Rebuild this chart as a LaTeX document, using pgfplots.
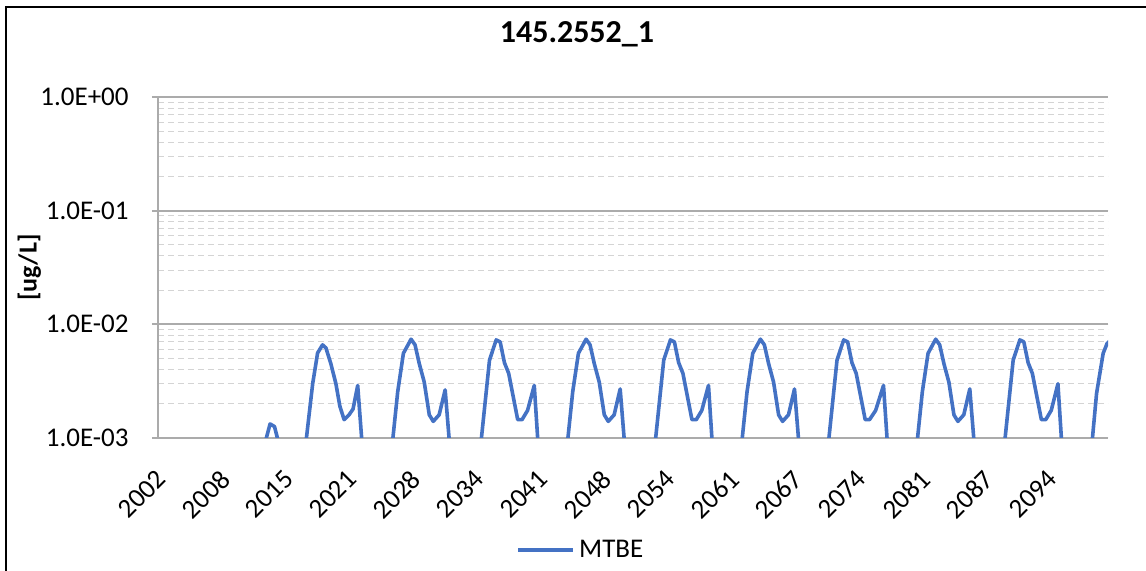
\documentclass[border=0pt]{standalone}
\usepackage{fontspec}
\setmainfont{Carlito}
\usepackage{pgfplots}
\pgfplotsset{compat=1.18}

\definecolor{mtbeblue}{HTML}{4472C4}
\definecolor{majgrid}{HTML}{ABABAB}
\definecolor{mingrid}{HTML}{D4D4D4}

\begin{document}
\begin{tikzpicture}
	% page frame (1 px = 0.5 pt)
	\useasboundingbox (-79pt,-66.5pt) rectangle (494pt,219pt);
	\draw[line width=1.25pt] (-76pt,-66.5pt) -- (-76pt,215.5pt) -- (494pt,215.5pt);
	\begin{axis}[at={(0pt,0pt)}, anchor=south west,
							scale only axis,
							width=475pt,
							height=170.5pt,
							ymode=log,
							xmin=2002, xmax=2100.09,
							ymin=1e-3, ymax=1,
							axis x line*=bottom, axis y line*=left,
							axis line style={-, majgrid, line width=1pt},
							xtick={2002,2008.571,2015.143,2021.714,2028.286,2034.857,2041.429,2048,2054.571,2061.143,2067.714,2074.286,2080.857,2087.429,2094},
							xticklabels={2002,2008,2015,2021,2028,2034,2041,2048,2054,2061,2067,2074,2081,2087,2094},
							xtick style={draw=none},
							xticklabel style={xshift=-1.5pt, yshift=-12pt, rotate=45, anchor=north east, inner sep=0pt, font=\fontsize{13.5}{16}\selectfont},
							ytick={1e-3,1e-2,1e-1,1},
							yticklabels={1.0E-03,1.0E-02,1.0E-01,1.0E+00},
							yticklabel style={anchor=east, inner sep=0pt, xshift=-11.5pt, font=\fontsize{13.5}{16}\selectfont},
							tick align=outside,
							major tick length=3pt,
							minor tick length=0pt,
							ytick style={majgrid, line width=1pt},
							ymajorgrids, yminorgrids,
							major grid style={majgrid, line width=1pt},
							minor grid style={mingrid, densely dashed, line width=0.5pt},
							title={145.2552\_1},
							title style={at={(0.441,1.1496)}, anchor=center, font=\fontsize{16}{19}\selectfont\bfseries},
							ylabel={[ug/L]},
							ylabel style={at={(axis description cs:-0.1353,0.5)}, anchor=center, rotate=0, font=\fontsize{13}{16}\selectfont\bfseries},
							legend style={at={(0.4463,-0.3284)}, anchor=center, draw=none, fill=none,
								font=\fontsize{13.5}{16}\selectfont, column sep=0pt},
							legend image code/.code={\draw[#1] (0pt,0pt) -- (27.5pt,0pt);},
							]
		\addplot[color=mtbeblue, line width=1.8pt, line join=round] coordinates {
			(2002,5e-4) (2012.5,5e-4)
			(2012.89,8e-4) (2013.57,1.33e-3) (2014.03,1.26e-3) (2014.62,8e-4)
			(2016.92,5e-4) (2017.97,3.0e-3) (2018.48,5.6e-3) (2018.99,6.6e-3) (2019.34,6.2e-3)
			(2019.85,4.5e-3) (2020.37,3.0e-3) (2020.78,1.9e-3) (2021.22,1.45e-3) (2021.73,1.6e-3)
			(2022.14,1.8e-3) (2022.62,2.9e-3) (2023.29,5e-4)
			(2025.89,5e-4) (2026.75,2.55e-3) (2027.34,5.56e-3) (2028.13,7.4e-3) (2028.54,6.6e-3)
			(2028.98,4.5e-3) (2029.49,3.1e-3) (2030.01,1.6e-3) (2030.42,1.4e-3) (2031.03,1.6e-3)
			(2031.65,2.65e-3) (2032.34,5e-4)
			(2035.03,5e-4) (2036.23,4.85e-3) (2036.92,7.3e-3) (2037.33,7.0e-3) (2037.77,4.6e-3)
			(2038.21,3.7e-3) (2039.14,1.45e-3) (2039.59,1.45e-3) (2040.16,1.75e-3) (2040.85,2.9e-3)
			(2041.43,5e-4)
			(2043.96,5e-4) (2044.82,2.55e-3) (2045.41,5.56e-3) (2046.20,7.4e-3) (2046.61,6.6e-3)
			(2047.05,4.5e-3) (2047.56,3.1e-3) (2048.08,1.6e-3) (2048.49,1.4e-3) (2049.10,1.6e-3)
			(2049.72,2.7e-3) (2050.41,5e-4)
			(2053.02,5e-4) (2054.22,4.85e-3) (2054.91,7.3e-3) (2055.32,7.0e-3) (2055.76,4.6e-3)
			(2056.20,3.7e-3) (2057.13,1.45e-3) (2057.58,1.45e-3) (2058.15,1.75e-3) (2058.84,2.9e-3)
			(2059.42,5e-4)
			(2061.96,5e-4) (2062.82,2.55e-3) (2063.41,5.56e-3) (2064.20,7.4e-3) (2064.61,6.6e-3)
			(2065.05,4.5e-3) (2065.56,3.1e-3) (2066.08,1.6e-3) (2066.49,1.4e-3) (2067.10,1.6e-3)
			(2067.72,2.7e-3) (2068.41,5e-4)
			(2070.91,5e-4) (2072.11,4.85e-3) (2072.80,7.3e-3) (2073.21,7.0e-3) (2073.65,4.6e-3)
			(2074.09,3.7e-3) (2075.02,1.45e-3) (2075.47,1.45e-3) (2076.10,1.75e-3) (2076.91,2.9e-3)
			(2077.51,5e-4)
			(2080.06,5e-4) (2080.92,2.55e-3) (2081.51,5.56e-3) (2082.30,7.4e-3) (2082.71,6.6e-3)
			(2083.15,4.5e-3) (2083.66,3.1e-3) (2084.18,1.6e-3) (2084.59,1.4e-3) (2085.20,1.6e-3)
			(2085.82,2.7e-3) (2086.51,5e-4)
			(2089.10,5e-4) (2090.30,4.85e-3) (2090.99,7.3e-3) (2091.40,7.0e-3) (2091.84,4.6e-3)
			(2092.28,3.7e-3) (2093.21,1.45e-3) (2093.66,1.45e-3) (2094.23,1.75e-3) (2094.92,3.0e-3)
			(2095.50,5e-4)
			(2098.16,5e-4) (2098.91,2.47e-3) (2099.59,5.56e-3) (2100.00,6.8e-3) (2100.4,7.3e-3)
		};
		\addlegendentry{MTBE}
	\end{axis}
\end{tikzpicture}
\end{document}
